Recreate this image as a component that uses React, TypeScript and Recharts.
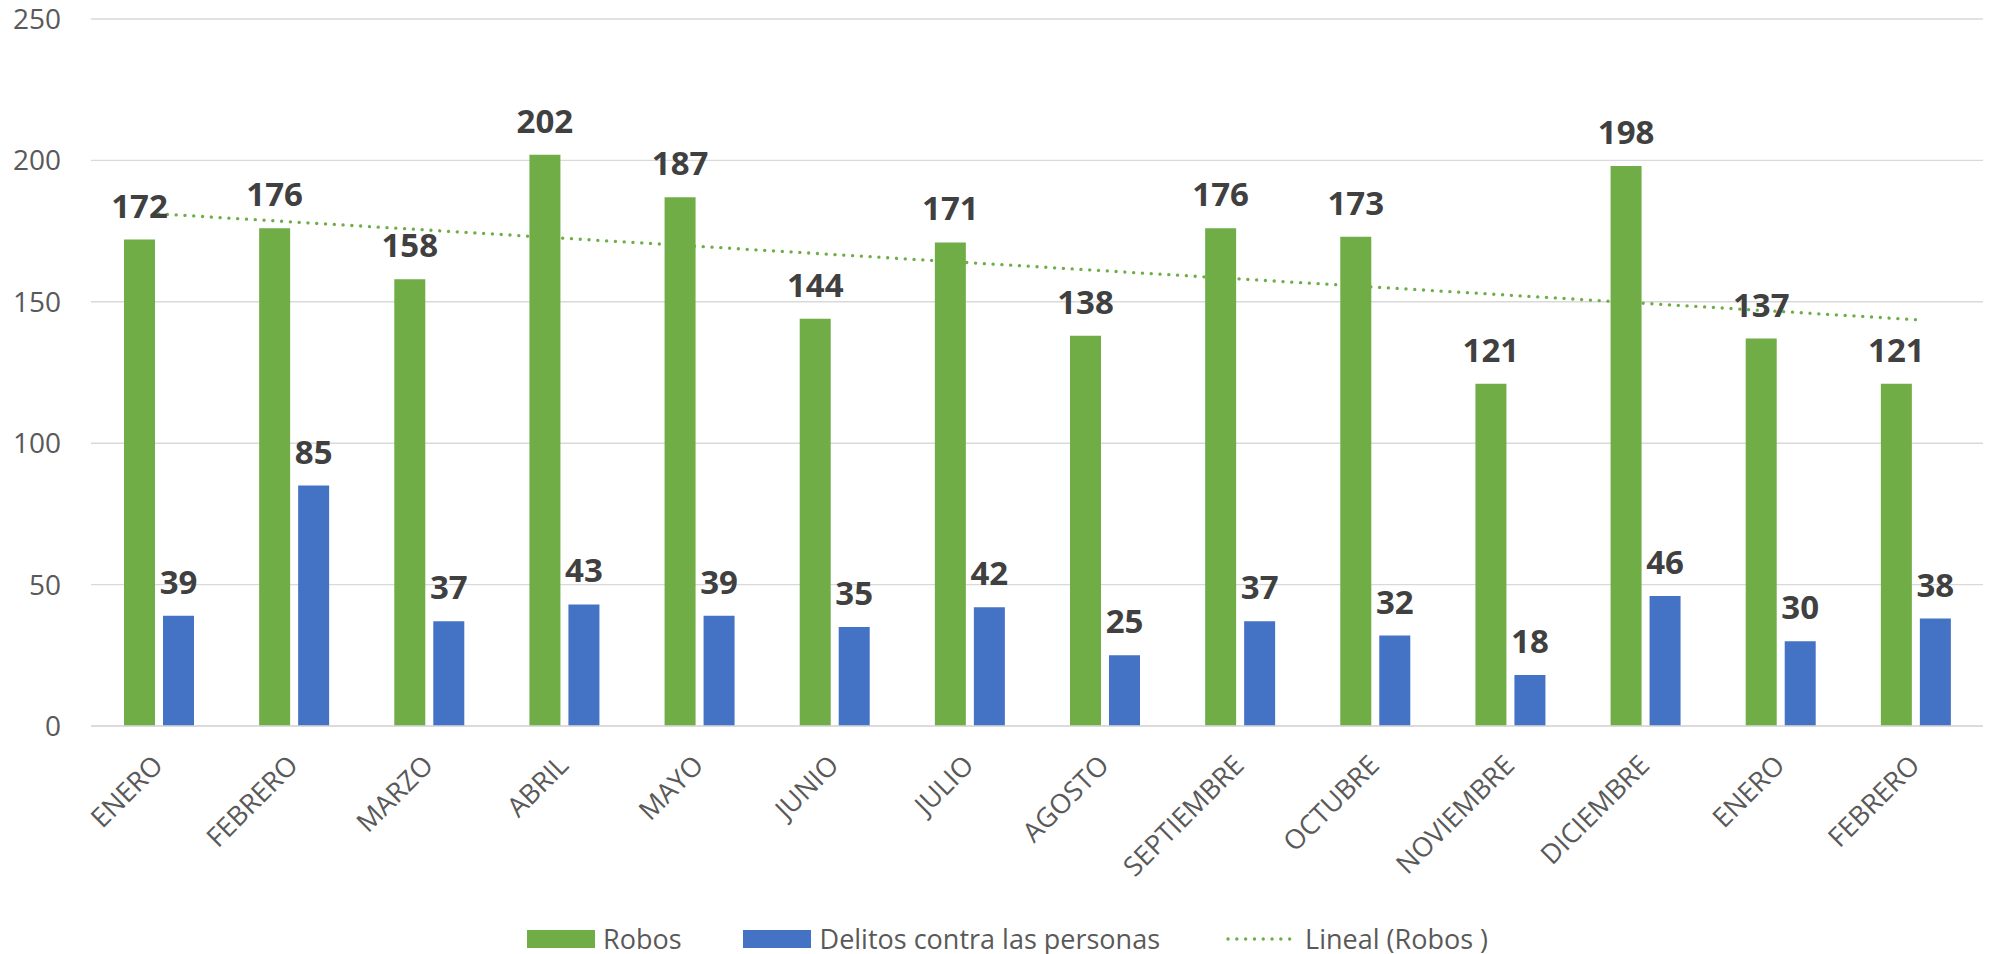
import React from "react";
import {
  ComposedChart,
  Bar,
  Line,
  XAxis,
  YAxis,
  CartesianGrid,
  LabelList,
} from "recharts";

const categorias = [
  "ENERO",
  "FEBRERO",
  "MARZO",
  "ABRIL",
  "MAYO",
  "JUNIO",
  "JULIO",
  "AGOSTO",
  "SEPTIEMBRE",
  "OCTUBRE",
  "NOVIEMBRE",
  "DICIEMBRE",
  "ENERO",
  "FEBRERO",
];
const robos = [172, 176, 158, 202, 187, 144, 171, 138, 176, 173, 121, 198, 137, 121];
const delitos = [39, 85, 37, 43, 39, 35, 42, 25, 37, 32, 18, 46, 30, 38];
// extremos de la línea de tendencia (Lineal (Robos))
const linealRobos = [181.1, 143.7];
const yTicks = [0, 50, 100, 150, 200, 250];

const VERDE = "#70AD47";
const AZUL = "#4472C4";
const FONT = "'Open Sans', sans-serif";

const data = categorias.map((mes, i) => ({
  id: i,
  mes,
  robos: robos[i],
  delitos: delitos[i],
  lineal: i === 0 ? linealRobos[0] : i === categorias.length - 1 ? linealRobos[1] : null,
}));

function MesTick({ x, y, payload }: { x?: number; y?: number; payload?: { value: number } }) {
  const label = categorias[payload?.value ?? 0];
  return (
    <g transform={`translate(${(x ?? 0) + 6},${(y ?? 0) + 41})`}>
      <text
        transform="rotate(-45)"
        textAnchor="end"
        fill="#595959"
        fontSize={27}
        fontFamily={FONT}
      >
        {label}
      </text>
    </g>
  );
}

function Leyenda() {
  const text = { fontSize: 27, color: "#595959", fontFamily: FONT, lineHeight: "26px" };
  return (
    <div
      style={{
        position: "absolute",
        left: 527,
        top: 926,
        display: "flex",
        alignItems: "center",
        height: 26,
      }}
    >
      <span style={{ width: 68, height: 18, background: VERDE, display: "inline-block" }} />
      <span style={{ ...text, marginLeft: 8 }}>Robos</span>
      <span style={{ width: 68, height: 18, background: AZUL, display: "inline-block", marginLeft: 61 }} />
      <span style={{ ...text, marginLeft: 9 }}>Delitos contra las personas</span>
      <svg width={66} height={10} style={{ marginLeft: 66 }}>
        <line
          x1={2}
          y1={5}
          x2={64}
          y2={5}
          stroke={VERDE}
          strokeWidth={3.3}
          strokeDasharray="0.1 8.7"
          strokeLinecap="round"
        />
      </svg>
      <span style={{ ...text, marginLeft: 13 }}>Lineal (Robos )</span>
    </div>
  );
}

export default function App() {
  return (
    <div style={{ position: "absolute", left: 0, top: 0, width: 1998, height: 954, background: "#fff" }}>
      <ComposedChart
        width={1998}
        height={954}
        data={data}
        margin={{ top: 19, right: 15, left: 0, bottom: 0 }}
        barCategoryGap={33}
        barGap={8}
      >
        <CartesianGrid vertical={false} stroke="#D9D9D9" strokeWidth={1.4} />
        <XAxis
          dataKey="id"
          type="category"
          height={228}
          tickSize={0}
          tickMargin={0}
          interval={0}
          tick={<MesTick />}
          axisLine={{ stroke: "#D9D9D9", strokeWidth: 1.4 }}
          tickLine={false}
        />
        <YAxis
          domain={[0, 250]}
          ticks={yTicks}
          width={91}
          tickSize={0}
          tickMargin={30}
          axisLine={false}
          tickLine={false}
          tick={{ fill: "#595959", fontSize: 28, fontFamily: FONT }}
        />
        <Bar dataKey="robos" fill={VERDE} isAnimationActive={false}>
          <LabelList
            dataKey="robos"
            position="top"
            offset={22}
            fill="#404040"
            fontSize={33}
            fontWeight={700}
            fontFamily={FONT}
          />
        </Bar>
        <Bar dataKey="delitos" fill={AZUL} isAnimationActive={false}>
          <LabelList
            dataKey="delitos"
            position="top"
            offset={22}
            fill="#404040"
            fontSize={33}
            fontWeight={700}
            fontFamily={FONT}
          />
        </Bar>
        <Line
          dataKey="lineal"
          connectNulls
          stroke={VERDE}
          strokeWidth={3.3}
          strokeDasharray="0.1 8.7"
          strokeLinecap="round"
          dot={false}
          activeDot={false}
          isAnimationActive={false}
        />
      </ComposedChart>
      <Leyenda />
    </div>
  );
}
